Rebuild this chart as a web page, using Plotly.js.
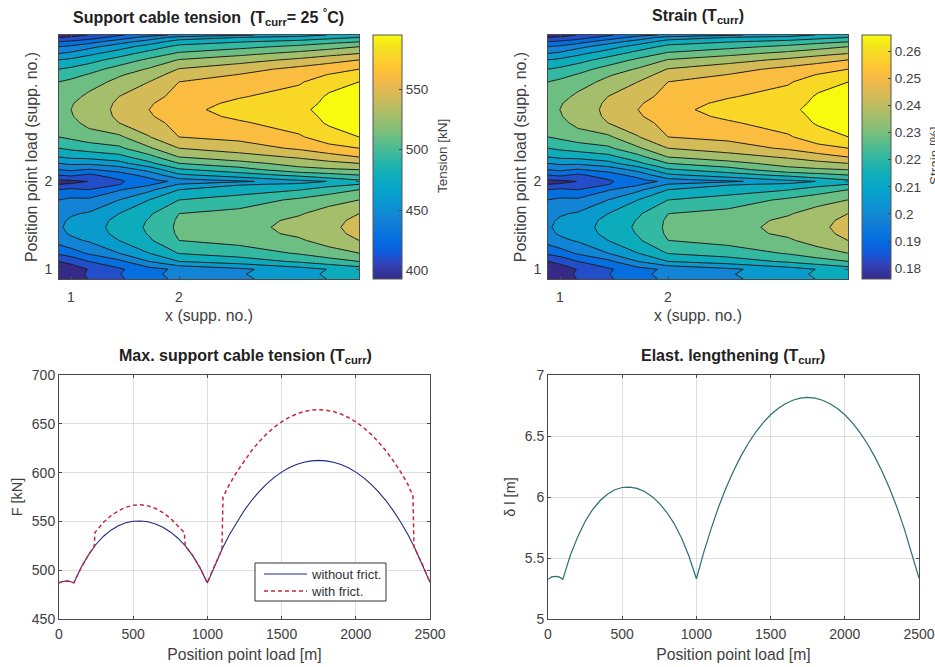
<!DOCTYPE html>
<html><head><meta charset="utf-8">
<script src="https://cdn.plot.ly/plotly-3.0.1.min.js"></script>
<style>html,body{margin:0;padding:0;background:#fff}#c{width:935px;height:667px}</style></head>
<body><div id="c"></div>
<script>
const gridX=[0,100,250,500,750,1000,1500,2000,2250,2500];
const gridY=[0,50,100,180,265,395,465,530,600,670,810,915,970,1000,1015,1065,1120,1185,1250,1340,1455,1600,1665,1735,1800,1870,2020,2090,2150,2245,2310,2380,2430,2475,2500];
const tension=[
[396.1,400,409.3,421.7,434.1,442.6,451.9,464,471.1,478.3],
[397.7,401.5,410.8,423.2,435.6,444.2,453.5,465.5,472.7,479.8],
[396.1,400,409.3,421.7,434.1,442.6,451.9,464,471.1,478.3],
[408.5,413.2,424,435.6,455,470.5,478.3,488.3,495.3,501.5],
[427.1,431.8,441.8,455,470.5,486.8,493,503.1,510,517],
[445.7,451.9,456.6,470.5,483.7,501.5,506.9,514.7,524,532.5],
[451.6,456.6,461.2,475.2,487.1,503.8,510.5,520,528,535.9],
[453.5,458.1,462.8,476.7,488.3,504.6,511.6,521.7,529.4,537.2],
[452.2,456.9,461.2,475.2,487.1,503.8,510.2,520.1,528,535.9],
[448.8,453.5,456.6,470.5,483.7,501.5,506.2,515.5,524,532.5],
[439.5,442.6,442.6,455,470.5,486,493,504.6,510.8,517],
[424,427.1,424,438,451.1,470.5,478.3,485.2,493.8,501.5],
[408.5,411.6,410.1,423.2,436.4,455.8,469,472.8,479.8,486],
[396.1,400,409.3,421.7,434.1,442.6,451.9,464,471.1,478.3],
[408.5,411.6,410.1,423.2,435.6,450.4,459.7,472.1,479,486],
[424,427.1,420.9,432.5,444.9,467.4,479,489.9,496.1,501.5],
[439.5,442.6,438,444.9,460.4,483.7,494.5,512.4,514.7,517],
[455,458.1,458.1,465.1,482.1,501.5,512.4,522.4,527.9,532.5],
[470.5,473.6,475.2,480.6,496.1,517,524.8,534.8,541.8,548],
[486,489.1,493,498.4,514.7,532.5,541,550.3,557.3,563.5],
[501.5,504.6,510,513.9,531.7,548,551.9,561.2,573.6,579],
[509.3,512.4,521.7,532.5,541.8,553.4,561.2,572,580.6,585.2],
[511.6,515.8,524,534.8,546.5,555.1,566.9,574.5,581.6,587.5],
[512.4,517,524.8,535.6,548,555.8,572.8,577,582.1,588.3],
[511.6,515.8,523.5,534.8,546.5,555.1,567.4,574.4,581.6,587.5],
[509.3,512.4,520.1,532.5,541.8,553.4,562,571.3,580.6,585.2],
[501.5,504.6,510.8,520.9,532.5,548,553.4,561.2,574.4,579],
[493.8,496.9,503.1,515.5,524.8,540.3,548.8,557.3,564.3,571.3],
[486,489.1,495.3,507.7,518.6,533.3,541.8,552.7,558.1,563.5],
[470.5,473.6,479.8,492.2,504.6,517.8,526.3,535.6,541.8,548],
[455,458.1,466.6,479,492.2,503.8,512.4,521.7,527.1,532.5],
[439.5,442.6,450.4,463.5,477.5,490.7,496.9,505.4,510.8,517],
[424,427.1,433.3,448.8,462,478.3,485.2,491.4,496.9,501.5],
[408.5,411.6,416.3,430.2,445.7,461.2,470.5,475.2,480.6,486],
[396.1,400,409.3,421.7,434.1,442.6,451.9,464,471.1,478.3]];
const strain=[
[.1774,.1791,.1833,.1888,.1943,.1981,.2023,.2077,.2109,.2141],
[.1781,.1798,.1840,.1895,.1950,.1988,.2030,.2084,.2116,.2148],
[.1774,.1791,.1833,.1888,.1943,.1981,.2023,.2077,.2109,.2141],
[.1829,.1850,.1898,.1950,.2037,.2106,.2141,.2186,.2217,.2244],
[.1912,.1933,.1978,.2037,.2106,.2179,.2206,.2251,.2282,.2314],
[.1995,.2023,.2044,.2106,.2165,.2244,.2269,.2303,.2345,.2383],
[.2022,.2044,.2064,.2127,.2180,.2255,.2285,.2327,.2363,.2398],
[.2030,.2051,.2071,.2134,.2186,.2258,.2289,.2334,.2369,.2404],
[.2024,.2045,.2064,.2127,.2180,.2255,.2283,.2327,.2363,.2398],
[.2009,.2030,.2044,.2106,.2165,.2244,.2265,.2307,.2345,.2383],
[.1968,.1981,.1981,.2037,.2106,.2175,.2206,.2258,.2286,.2314],
[.1898,.1912,.1898,.1961,.2020,.2106,.2141,.2172,.2210,.2244],
[.1829,.1843,.1836,.1895,.1954,.2040,.2099,.2116,.2148,.2175],
[.1774,.1791,.1833,.1888,.1943,.1981,.2023,.2077,.2109,.2141],
[.1829,.1843,.1836,.1895,.1950,.2016,.2058,.2113,.2144,.2175],
[.1898,.1912,.1885,.1936,.1992,.2092,.2144,.2193,.2220,.2244],
[.1968,.1981,.1961,.1992,.2061,.2165,.2213,.2293,.2303,.2314],
[.2037,.2051,.2051,.2082,.2158,.2244,.2293,.2338,.2362,.2383],
[.2106,.2120,.2127,.2151,.2220,.2314,.2348,.2393,.2424,.2452],
[.2175,.2189,.2206,.2231,.2303,.2383,.2421,.2462,.2494,.2521],
[.2244,.2258,.2282,.2300,.2379,.2452,.2469,.2511,.2566,.2590],
[.2279,.2293,.2334,.2383,.2424,.2476,.2511,.2559,.2597,.2618],
[.2289,.2308,.2345,.2393,.2445,.2484,.2536,.2570,.2602,.2628],
[.2293,.2314,.2348,.2397,.2452,.2487,.2563,.2581,.2604,.2632],
[.2289,.2308,.2343,.2393,.2445,.2484,.2539,.2570,.2602,.2628],
[.2279,.2293,.2327,.2383,.2424,.2476,.2514,.2556,.2597,.2618],
[.2244,.2258,.2286,.2331,.2383,.2452,.2476,.2511,.2570,.2590],
[.2210,.2224,.2251,.2307,.2348,.2417,.2455,.2494,.2525,.2556],
[.2175,.2189,.2217,.2272,.2321,.2386,.2424,.2473,.2497,.2521],
[.2106,.2120,.2148,.2203,.2258,.2317,.2355,.2397,.2424,.2452],
[.2037,.2051,.2089,.2144,.2203,.2255,.2293,.2334,.2359,.2383],
[.1968,.1981,.2016,.2075,.2137,.2196,.2224,.2262,.2286,.2314],
[.1898,.1912,.1940,.2009,.2068,.2141,.2172,.2199,.2224,.2244],
[.1829,.1843,.1864,.1926,.1995,.2064,.2106,.2127,.2151,.2175],
[.1774,.1791,.1833,.1888,.1943,.1981,.2023,.2077,.2109,.2141]];

const posA=[0,25,50,75,100,150,200,250,300,350,400,450,500,550,600,650,700,750,800,850,900,950,1000,1050,1100,1150,1200,1250,1300,1350,1400,1450,1500,1550,1600,1650,1700,1750,1800,1850,1900,1950,2000,2050,2100,2150,2200,2250,2300,2350,2400,2450,2500];
const forceNoFriction=[487,488.5,489,488.5,487,503,516,526.6,534.8,541,545.5,548.6,550.2,550.4,549.6,547.4,544,539.2,533,525.2,515.2,502.5,487,505.4,521.9,536.8,549.9,561.6,571.9,580.8,588.5,595.1,600.5,604.9,608.2,610.6,612,612.5,612,610.6,608.2,604.9,600.5,595.1,588.5,580.8,571.9,561.6,549.9,536.8,521.9,505.4,487.5];
const posB=[0,25,50,75,100,150,200,238,242,300,350,400,450,500,550,600,650,700,750,800,845,850,900,950,1000,1050,1098,1105,1150,1200,1250,1300,1350,1400,1450,1500,1550,1600,1650,1700,1750,1800,1850,1900,1950,2000,2050,2100,2150,2200,2250,2300,2350,2385,2392,2450,2500];
const forceFriction=[487,488.5,489,488.5,487,503,516,525,538.5,549.1,555.8,560.9,564.5,566.5,567,565.9,563.2,559,553.3,546,538.5,525.2,515.2,502.5,487,505.4,521,575,588.3,601.2,612.6,622.9,631.9,639.7,646.4,652,656.5,660,662.5,664,664.5,664,662.5,660,656.5,652,646.4,639.7,631.9,622.9,612.6,601.2,588.3,576,524,505.4,487.5];
const lengthening=[5.325,5.345,5.35,5.345,5.325,5.52,5.673,5.799,5.896,5.969,6.023,6.059,6.078,6.081,6.071,6.045,6.005,5.948,5.875,5.782,5.664,5.514,5.33,5.548,5.743,5.92,6.075,6.213,6.335,6.441,6.532,6.61,6.674,6.726,6.765,6.793,6.81,6.816,6.81,6.793,6.765,6.726,6.674,6.61,6.532,6.441,6.335,6.213,6.075,5.92,5.743,5.548,5.335];

const supportTicks=[100,1000];
const supportLabels=['1','2'];
const tensionTicks=[400,450,500,550];
const strainTicks=[0.18,0.19,0.2,0.21,0.22,0.23,0.24,0.25,0.26];
const strainLabels=['0.18','0.19','0.2','0.21','0.22','0.23','0.24','0.25','0.26'];

const parula=[[0,'#352a87'],[0.063,'#3243ba'],[0.111,'#0f5cdd'],[0.159,'#046de0'],[0.238,'#1481d6'],[0.302,'#0c93d2'],[0.365,'#06a4ca'],[0.429,'#0faeb9'],[0.492,'#2eb7a4'],[0.556,'#59bd8c'],[0.619,'#87bf77'],[0.683,'#aebd67'],[0.746,'#d1bb59'],[0.81,'#f1b94a'],[0.841,'#fdbe3d'],[0.873,'#fec832'],[0.905,'#f9d32a'],[0.937,'#f5de21'],[0.968,'#f5eb18'],[1,'#f9fb0e']];

const W=935,H=667,ink='#404040',font='Liberation Sans, Arial, sans-serif';
const blue='#1f2a80',red='#c9283e',dash='4px,3px';
const dx=(a,b)=>[a/W,b/W];
const dy=(top,bot)=>[1-bot/H,1-top/H];

function contourTrace(z,start,size,xa,ya){
  return {type:'contour',x:gridX,y:gridY,z:z,xaxis:xa,yaxis:ya,autocontour:false,showlegend:false,
    contours:{start:start,end:start+size*11,size:size,coloring:'fill',showlines:true},
    line:{color:'#1c1c1c',width:1,smoothing:0},colorscale:parula,showscale:false,hoverinfo:'skip'};
}
function scaleTrace(lo,hi,xa,ya,cbX,ticks,labels){
  return {type:'heatmap',z:[[lo,hi]],x:[0,2500],y:[0],xaxis:xa,yaxis:ya,zmin:lo,zmax:hi,colorscale:parula,hoverinfo:'skip',showlegend:false,
    colorbar:{x:cbX/W,xanchor:'left',xpad:0,ypad:0,y:1-35/H,yanchor:'top',len:244,lenmode:'pixels',thickness:29,thicknessmode:'pixels',
      outlinecolor:'#555',outlinewidth:1,tickmode:'array',tickvals:ticks,ticktext:labels,ticks:'inside',ticklen:3,tickcolor:'#444',
      tickfont:{family:font,size:13.5,color:ink}}};
}
const data=[
  scaleTrace(393,595,'x','y',373,tensionTicks,tensionTicks.map(String)),
  contourTrace(tension,408.5,15.5,'x','y'),
  scaleTrace(0.176,0.266,'x2','y2',862,strainTicks,strainLabels),
  contourTrace(strain,0.18292,0.00692,'x2','y2'),
  {x:posA,y:forceNoFriction,xaxis:'x3',yaxis:'y3',mode:'lines',name:'without frict.',showlegend:false,line:{color:blue,width:1.1}},
  {x:posB,y:forceFriction,xaxis:'x3',yaxis:'y3',mode:'lines',name:'with frict.',showlegend:false,line:{color:red,width:1.5,dash:dash}},
  {x:posA,y:lengthening,xaxis:'x4',yaxis:'y4',mode:'lines',showlegend:false,line:{color:'#2a6f72',width:1.2}}
];
const axisBase={showline:true,linecolor:'#4a4a4a',linewidth:1,mirror:'allticks',ticks:'inside',ticklen:3,tickcolor:'#4a4a4a',
  tickfont:{family:font,size:14,color:ink},zeroline:false};
function contourX(a,b,anchor){return {...axisBase,domain:dx(a,b),anchor:anchor,range:[0,2500],tickmode:'array',tickvals:supportTicks,ticktext:supportLabels,showgrid:false,ticklabelstandoff:5,
  title:{text:'x (supp. no.)',standoff:6,font:{family:font,size:15.8,color:ink}}};}
function contourY(anchor){return {...axisBase,domain:dy(35,279),anchor:anchor,range:[0,2500],tickmode:'array',tickvals:supportTicks,ticktext:supportLabels,showgrid:false,ticklabelstandoff:3,
  title:{text:'Position point load (supp. no.)',standoff:2,font:{family:font,size:15.9,color:ink}}};}
function lineX(a,b,anchor){return {...axisBase,domain:dx(a,b),anchor:anchor,range:[0,2500],tick0:0,dtick:500,showgrid:true,gridcolor:'#dedede',gridwidth:1,ticklabelstandoff:2,
  title:{text:'Position point load [m]',standoff:8,font:{family:font,size:15.7,color:ink}}};}
function lineY(r,d,t,anchor,title){return {...axisBase,domain:dy(375,619),anchor:anchor,range:r,tick0:t,dtick:d,showgrid:true,gridcolor:'#dedede',gridwidth:1,
  title:{text:title,standoff:5,font:{family:font,size:14.5,color:ink}}};}
function head(text,cx,cy){return {text:text,xref:'paper',yref:'paper',x:cx/W,y:1-cy/H,xanchor:'center',yanchor:'middle',showarrow:false,font:{family:font,size:16,color:'#222'}};}
function barTitle(text,cx,cy){return {text:text,xref:'paper',yref:'paper',x:cx/W,y:1-cy/H,xanchor:'center',yanchor:'middle',textangle:-90,showarrow:false,font:{family:font,size:13.5,color:ink}};}
function keyText(text,left,cy){return {text:text,xref:'paper',yref:'paper',x:left/W,y:1-cy/H,xanchor:'left',yanchor:'middle',showarrow:false,font:{family:font,size:13,color:'#333'}};}
function keyLine(cy,color,width,d){return {type:'line',xref:'paper',yref:'paper',x0:264/W,x1:307/W,y0:1-cy/H,y1:1-cy/H,line:{color:color,width:width,dash:d}};}
const layout={width:W,height:H,autosize:false,showlegend:false,margin:{l:0,r:0,t:0,b:0,autoexpand:false},paper_bgcolor:'#fff',plot_bgcolor:'#fff',
  xaxis:contourX(59,359,'y'),yaxis:contourY('x'),
  xaxis2:contourX(548,848,'y2'),yaxis2:contourY('x2'),
  xaxis3:lineX(59,430,'y3'),yaxis3:lineY([450,700],50,450,'x3','F [kN]'),
  xaxis4:lineX(548,919,'y4'),yaxis4:lineY([5,7],0.5,5,'x4','δ l [m]'),
  shapes:[
    {type:'rect',xref:'paper',yref:'paper',x0:255/W,x1:386/W,y0:1-601/H,y1:1-563/H,fillcolor:'#fff',line:{color:'#333',width:1}},
    keyLine(574,blue,1.1,'solid'),
    keyLine(591,red,1.5,dash)
  ],
  annotations:[
    head('<b>Support cable tension&nbsp;&nbsp;(T<sub>curr</sub>= 25 <sup>°</sup>C)</b>',208,17),
    head('<b>Strain (T<sub>curr</sub>)</b>',698,17),
    head('<b>Max. support cable tension (T<sub>curr</sub>)</b>',245,357),
    head('<b>Elast. lengthening (T<sub>curr</sub>)</b>',733,357),
    barTitle('Tension [kN]',442,156),
    barTitle('Strain [%]',934,156),
    keyText('without frict.',309,574),
    keyText('with frict.',309,591)
  ]};
Plotly.newPlot('c',data,layout,{displayModeBar:false,staticPlot:true});
</script></body></html>
